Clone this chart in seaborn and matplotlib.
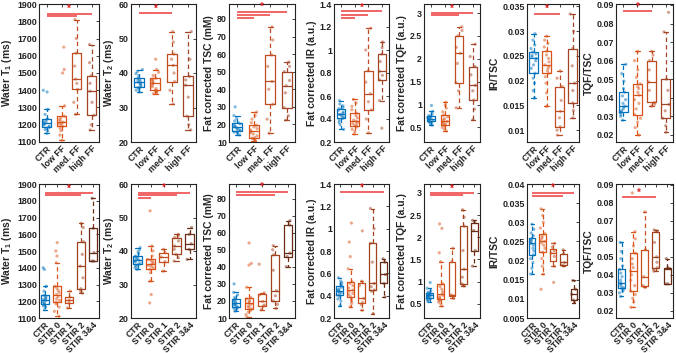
import numpy as np
import pandas as pd
import seaborn as sns
import matplotlib.pyplot as plt
from matplotlib.ticker import FuncFormatter

# group names
groups_ff = ['CTR', 'low FF', 'med. FF', 'high FF']
groups_stir = ['CTR', 'STIR 0', 'STIR 1', 'STIR 2', 'STIR 3&4']

# water T1 (ms)
t1_ctr = [1150, 1165, 1172, 1180, 1185, 1192, 1198, 1205, 1210, 1215, 1220, 1228, 1235, 1260, 1290, 1390, 1400]
t1_low = [1110, 1140, 1165, 1180, 1190, 1198, 1205, 1210, 1215, 1222, 1230, 1240, 1250, 1310, 1500, 1520, 1650]
t1_med = [1260, 1330, 1405, 1440, 1465, 1540, 1615, 1700, 1810]
t1_high = [1170, 1200, 1255, 1330, 1395, 1440, 1485, 1560, 1665]
t1_s0 = [1110, 1140, 1165, 1185, 1195, 1205, 1215, 1228, 1240, 1252, 1265, 1278, 1290, 1430, 1470, 1500, 1550]
t1_s1 = [1160, 1190, 1205, 1225, 1260]
t1_s2 = [1250, 1260, 1275, 1340, 1410, 1480, 1555, 1640, 1665]
t1_s34 = [1440, 1440, 1490, 1635, 1815]

# water T2 (ms)
t2_ctr = [34.5, 35.0, 35.4, 35.8, 36.0, 36.4, 36.8, 37.0, 37.3, 37.6, 37.9, 38.2, 38.5, 39.2, 39.8, 40.4, 41.0]
t2_low = [34.0, 34.3, 34.6, 34.8, 35.0, 35.5, 36.0, 36.5, 37.0, 37.4, 37.8, 38.2, 38.5, 39.3, 40.2, 41.0, 44.0]
t2_med = [31.0, 35.0, 37.5, 40.0, 42.2, 44.0, 45.5, 49.0, 52.0]
t2_high = [23.5, 25.0, 27.5, 33.0, 36.5, 38.0, 39.0, 44.0, 52.0]
t2_s0 = [24.5, 27.0, 31.0, 33.5, 34.5, 35.0, 35.4, 35.7, 36.0, 36.4, 36.8, 37.2, 37.5, 38.5, 40.0, 41.5, 52.0]
t2_s1 = [34.0, 36.8, 38.2, 39.5, 40.5]
t2_s2 = [37.0, 38.0, 39.0, 40.5, 41.5, 43.0, 44.0, 44.5, 45.0]
t2_s34 = [37.5, 40.5, 42.2, 45.0, 47.0]

# fat corrected TSC (mM)
tsc_ctr = [14.0, 15.0, 15.6, 16.0, 16.5, 17.0, 17.6, 18.0, 18.5, 19.0, 19.6, 20.3, 21.0, 22.0, 23.5, 25.0, 30.0]
tsc_low = [10.5, 11.2, 11.8, 12.2, 12.5, 13.5, 14.5, 15.3, 16.0, 16.8, 17.6, 18.6, 19.5, 21.0, 23.0, 25.0, 27.0]
tsc_med = [15.0, 23.0, 31.5, 40.0, 44.5, 53.0, 59.5, 68.0, 75.5]
tsc_high = [22.5, 25.0, 29.5, 38.0, 42.0, 45.0, 50.0, 53.0, 55.5]
tsc_s0 = [10.5, 12.0, 13.5, 14.5, 15.4, 16.2, 17.0, 17.8, 18.7, 19.5, 20.3, 21.2, 22.0, 28.0, 41.0, 42.0, 54.0]
tsc_s1 = [14.8, 17.0, 17.6, 19.7, 23.5, 24.7, 41.5]
tsc_s2 = [15.7, 18.0, 20.0, 23.0, 26.0, 38.0, 47.0, 50.0, 52.4]
tsc_s34 = [40.0, 46.0, 48.0, 64.5, 67.0]

# fat corrected IR (a.u.)
ir_ctr = [0.31, 0.35, 0.37, 0.39, 0.405, 0.415, 0.425, 0.435, 0.44, 0.45, 0.46, 0.475, 0.49, 0.50, 0.515, 0.53, 0.56]
ir_low = [0.27, 0.29, 0.31, 0.33, 0.34, 0.35, 0.36, 0.37, 0.38, 0.39, 0.41, 0.43, 0.45, 0.48, 0.51, 0.54, 0.57]
ir_med = [0.28, 0.40, 0.48, 0.55, 0.62, 0.72, 0.82, 1.00, 1.19]
ir_high = [0.32, 0.56, 0.74, 0.78, 0.815, 0.90, 0.965, 1.02, 1.07]
ir_s0 = [0.30, 0.33, 0.35, 0.37, 0.39, 0.41, 0.42, 0.44, 0.45, 0.47, 0.49, 0.51, 0.525, 0.64, 0.75, 0.88, 1.05]
ir_s1 = [0.27, 0.32, 0.34, 0.375, 0.49, 0.53, 0.98]
ir_s2 = [0.24, 0.44, 0.45, 0.48, 0.51, 0.70, 0.87, 1.00, 1.18]
ir_s34 = [0.39, 0.51, 0.59, 0.70, 0.73]

# fat corrected TQF (a.u.)
tqf_ctr = [0.55, 0.58, 0.60, 0.62, 0.63, 0.65, 0.66, 0.68, 0.69, 0.70, 0.71, 0.72, 0.74, 0.76, 0.79, 0.85, 0.98]
tqf_low = [0.42, 0.46, 0.50, 0.53, 0.55, 0.57, 0.59, 0.61, 0.63, 0.66, 0.69, 0.73, 0.77, 0.84, 0.92, 0.98, 1.05]
tqf_med = [0.93, 1.30, 1.48, 1.90, 2.12, 2.25, 2.50, 2.62, 2.70]
tqf_high = [0.67, 0.90, 1.10, 1.30, 1.42, 1.65, 1.83, 2.05, 2.32]
tqf_s0 = [0.45, 0.50, 0.54, 0.57, 0.60, 0.63, 0.66, 0.69, 0.72, 0.77, 0.83, 0.89, 0.95, 1.45, 1.65, 2.20, 2.30]
tqf_s1 = [0.62, 0.68, 0.70, 1.45, 1.75]
tqf_s2 = [0.90, 0.92, 0.95, 1.10, 1.28, 1.70, 2.25, 2.45, 2.62]
tqf_s34 = [1.35, 1.70, 2.15, 2.33, 2.38]

# IR/TSC
irtsc_ctr = [0.0165, 0.0180, 0.0195, 0.0205, 0.0215, 0.0225, 0.0232, 0.0240, 0.0245, 0.0248, 0.0251, 0.0254, 0.0258, 0.0265, 0.0272, 0.0282, 0.0295]
irtsc_low = [0.0148, 0.0175, 0.0195, 0.0208, 0.0215, 0.0220, 0.0225, 0.0229, 0.0232, 0.0238, 0.0245, 0.0252, 0.0260, 0.0268, 0.0275, 0.0282, 0.0290]
irtsc_med = [0.0090, 0.0100, 0.0107, 0.0125, 0.0138, 0.0160, 0.0188, 0.0205, 0.0220]
irtsc_high = [0.0125, 0.0140, 0.0155, 0.0180, 0.0195, 0.0230, 0.0265, 0.0300, 0.0335]
irtsc_s0 = [0.0125, 0.0165, 0.0185, 0.0205, 0.0222, 0.0232, 0.0240, 0.0246, 0.0250, 0.0255, 0.0260, 0.0265, 0.0270, 0.0285, 0.0300, 0.0318, 0.0335]
irtsc_s1 = [0.0143, 0.0185, 0.0211, 0.0220, 0.0225, 0.0235, 0.0245]
irtsc_s2 = [0.0186, 0.0188, 0.0195, 0.0218, 0.0228]
irtsc_s34 = [0.0090, 0.0097, 0.0112, 0.0125, 0.0148]

# TQF/TSC
tqftsc_ctr = [0.028, 0.030, 0.031, 0.032, 0.0325, 0.033, 0.034, 0.035, 0.0355, 0.037, 0.039, 0.041, 0.043, 0.045, 0.049, 0.053, 0.058]
tqftsc_low = [0.020, 0.024, 0.027, 0.029, 0.031, 0.034, 0.037, 0.039, 0.0415, 0.043, 0.045, 0.046, 0.0475, 0.051, 0.055, 0.060, 0.065]
tqftsc_med = [0.0355, 0.0365, 0.0375, 0.044, 0.0485, 0.055, 0.060, 0.063, 0.065]
tqftsc_high = [0.0215, 0.025, 0.029, 0.033, 0.0365, 0.044, 0.050, 0.0755, 0.086]
tqftsc_s0 = [0.022, 0.025, 0.027, 0.029, 0.031, 0.034, 0.037, 0.040, 0.042, 0.044, 0.046, 0.049, 0.052, 0.056, 0.060, 0.064, 0.0855]
tqftsc_s1 = [0.033, 0.034, 0.039, 0.054, 0.075]
tqftsc_s2 = [0.042, 0.043, 0.044, 0.047, 0.050, 0.058, 0.064, 0.0645, 0.065]
tqftsc_s34 = [0.035, 0.035, 0.0435, 0.044, 0.049]

# significance bars: (last group index, y) drawn from CTR, plus the star height
sig_top = [[(3, 1842), (2, 1830)], [(2, 57.3)], [(3, 84.0), (2, 82.2), (1, 80.4)],
           [(3, 1.336), (2, 1.308), (1, 1.280)], [(3, 3.0), (2, 2.95)], [(2, 0.0335)], [(2, 0.0865)]]
star_top = [1872, 58.7, 86.8, 1.37, 3.1, 0.0346, 0.0888]
sig_bot = [[(4, 1846), (3, 1834)], [(4, 57.4), (3, 56.6), (1, 55.8)], [(4, 83.6), (3, 82.2)],
           [(4, 1.33)], [(4, 3.0), (3, 2.95)], [(4, 0.0376), (3, 0.0368)], [(3, 0.0835)]]
star_bot = [1874, 58.9, 86.6, 1.37, 3.1, 0.0389, 0.0858]

ylabels = ['Water T$_1$ (ms)', 'Water T$_2$ (ms)', 'Fat corrected TSC (mM)', 'Fat corrected IR (a.u.)',
           'Fat corrected TQF (a.u.)', 'IR/TSC', 'TQF/TSC']
ylims_top = [(1100, 1900), (20, 60), (10, 88.5), (0.2, 1.4), (0.18, 3.2), (0.0076, 0.0355), (0.0162, 0.0905)]
ylims_bot = [(1100, 1900), (20, 60), (10, 88.5), (0.2, 1.4), (0.18, 3.2), (0.005, 0.04), (0.016, 0.0905)]
yticks_top = [np.arange(1100, 1901, 100), [20, 30, 40, 50, 60], np.arange(10, 81, 10), np.arange(0.2, 1.41, 0.2),
              np.arange(0.5, 3.01, 0.5), np.arange(0.01, 0.0351, 0.005), np.arange(0.02, 0.0901, 0.01)]
yticks_bot = yticks_top[:5] + [np.arange(0.005, 0.0401, 0.005), np.arange(0.02, 0.0901, 0.01)]

pal_ff = ['#0072BD', '#D95319', '#C04C22', '#A24526']
pal_stir = ['#0072BD', '#D95319', '#C44E1E', '#A0421E', '#6B2C16']

top_data = [
    [t1_ctr, t1_low, t1_med, t1_high],
    [t2_ctr, t2_low, t2_med, t2_high],
    [tsc_ctr, tsc_low, tsc_med, tsc_high],
    [ir_ctr, ir_low, ir_med, ir_high],
    [tqf_ctr, tqf_low, tqf_med, tqf_high],
    [irtsc_ctr, irtsc_low, irtsc_med, irtsc_high],
    [tqftsc_ctr, tqftsc_low, tqftsc_med, tqftsc_high],
]
bot_data = [
    [t1_ctr, t1_s0, t1_s1, t1_s2, t1_s34],
    [t2_ctr, t2_s0, t2_s1, t2_s2, t2_s34],
    [tsc_ctr, tsc_s0, tsc_s1, tsc_s2, tsc_s34],
    [ir_ctr, ir_s0, ir_s1, ir_s2, ir_s34],
    [tqf_ctr, tqf_s0, tqf_s1, tqf_s2, tqf_s34],
    [irtsc_ctr, irtsc_s0, irtsc_s1, irtsc_s2, irtsc_s34],
    [tqftsc_ctr, tqftsc_s0, tqftsc_s1, tqftsc_s2, tqftsc_s34],
]

sns.set_theme(style='white')
plt.rcParams['font.family'] = ['Liberation Sans', 'DejaVu Sans']
plt.rcParams['font.weight'] = 'bold'
plt.rcParams['axes.labelweight'] = 'bold'
plt.rcParams['mathtext.fontset'] = 'custom'
plt.rcParams['mathtext.rm'] = 'Liberation Sans:bold'
plt.rcParams['mathtext.it'] = 'Liberation Sans:bold'
plt.rcParams['mathtext.bf'] = 'Liberation Sans:bold'
np.random.seed(3)

W, H = 676, 353
fig = plt.figure(figsize=(W / 100, H / 100), dpi=100)

# panel boxes in pixels (left, right) and (top, bottom)
cols_px = [(39, 99), (131, 196), (229, 295), (334, 389), (424, 480), (527, 579), (616, 673)]
rows_px = [(4, 142), (184, 318)]


def draw_panel(ax, groups, pal, series, ylim, yticks, ylabel, sig, star_y):
    df = pd.DataFrame({'group': np.repeat(groups, [len(s) for s in series]),
                       'value': np.concatenate(series)})
    sns.boxplot(data=df, x='group', y='value', hue='group', order=groups, hue_order=groups,
                palette=pal, fill=False, legend=False, showfliers=False, width=0.62,
                linewidth=0.9, whiskerprops=dict(linestyle=(0, (3.5, 2.5))), ax=ax)
    sns.stripplot(data=df, x='group', y='value', hue='group', order=groups, hue_order=groups,
                  palette=pal, legend=False, jitter=0.22, size=2.3, alpha=0.5, linewidth=0, ax=ax)
    for end, y in sig:
        ax.plot([0, end], [y, y], color='#EE3A3A', lw=1.1, solid_capstyle='butt', zorder=5)
    ax.text(max(e for e, _ in sig) / 2, star_y, '*', color='#E02020', ha='center', va='center',
            fontsize=7, fontweight='bold')
    ax.set_xlim(-0.5, len(groups) - 0.5)
    ax.set_ylim(*ylim)
    ax.set_yticks(yticks)
    ax.yaxis.set_major_formatter(FuncFormatter(lambda v, p: f'{v:g}'))
    ax.set_xlabel('')
    ax.set_ylabel(ylabel, fontsize=7.4, labelpad=2)
    ax.tick_params(axis='both', direction='in', length=2.5, width=0.6, top=True, right=True,
                   labelsize=6.4, pad=1.5, colors='#222222')
    ax.set_xticks(range(len(groups)))
    ax.set_xticklabels(groups, rotation=45, ha='right', rotation_mode='anchor', fontweight='bold')
    for lab in ax.get_yticklabels():
        lab.set_fontweight('bold')
    for s in ax.spines.values():
        s.set_visible(True)
        s.set_color('#222222')
        s.set_linewidth(0.8)


for r, (groups, pal, data, sig, stars, ylims, yticks) in enumerate([
        (groups_ff, pal_ff, top_data, sig_top, star_top, ylims_top, yticks_top),
        (groups_stir, pal_stir, bot_data, sig_bot, star_bot, ylims_bot, yticks_bot)]):
    top, bottom = rows_px[r]
    for c in range(7):
        left, right = cols_px[c]
        ax = fig.add_axes([left / W, 1 - bottom / H, (right - left) / W, (bottom - top) / H])
        draw_panel(ax, groups, pal, data[c], ylims[c], yticks[c], ylabels[c], sig[c], stars[c])

fig.savefig('out.png', dpi=100, facecolor='white')
